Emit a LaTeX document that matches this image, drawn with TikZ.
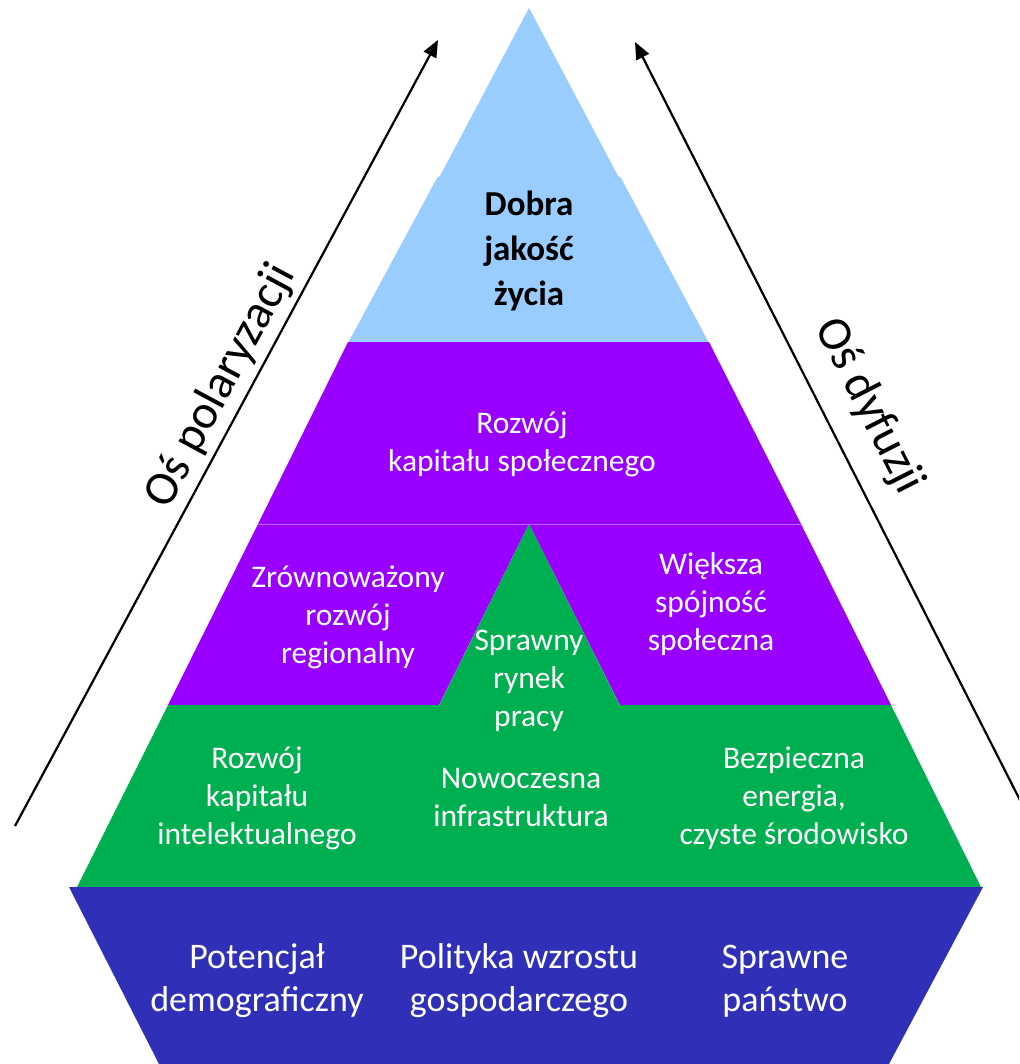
\documentclass[tikz,border=0pt]{standalone}
\usepackage{fontspec}
\setmainfont{Carlito}
\usetikzlibrary{arrows.meta}
\definecolor{lblue}{HTML}{99CCFF}
\definecolor{purp}{HTML}{9900FF}
\definecolor{grn}{HTML}{00B050}
\definecolor{dblue}{HTML}{2F2FB8}
\definecolor{divl}{HTML}{B566FF}
\tikzset{
  mid/.style={text=white, align=center, font=\fontsize{31.5}{38}\selectfont},
  big/.style={text=white, align=center, font=\fontsize{36}{43}\selectfont},
  axis/.style={draw=black, line width=2.2pt, -{Triangle[length=17pt,width=14pt]}},
  axislabel/.style={text=black, inner sep=0pt, font=\fontsize{48}{50}\selectfont}
}
\begin{document}
\begin{tikzpicture}[x=1pt,y=-1pt]
\useasboundingbox (0,0) rectangle (1019,1064);
\clip (0,0) rectangle (1019,1064);
% shapes
\fill[lblue] (529,8) -- (440,176) -- (437,178) -- (348,343) -- (709,343) -- (621,178) -- (618,176) -- cycle;
\fill[purp] (348,342) -- (258,524) -- (801,524) -- (709,342) -- cycle;
\fill[purp] (258,524) -- (168,705) -- (439,705) -- (529,524) -- (620,705) -- (891,705) -- (801,524) -- cycle;
\fill[grn] (529,524) -- (439,705.5) -- (620,705.5) -- cycle;
\fill[grn] (168,705) -- (77,887) -- (981,887) -- (891,705) -- cycle;
\fill[dblue] (69,887) -- (159,1064) -- (889,1064) -- (983,887) -- cycle;
\draw[divl, line width=0.8pt] (258,524) -- (801,524);
% texts
\node[align=center, font=\fontsize{35}{45}\selectfont\bfseries] (top) at (529,251) {Dobra\\jakość\\życia};
\node[mid] (soc) at (522,444) {Rozwój\\kapitału społecznego};
\node[mid] (reg) at (348,617) {Zrównoważony\\rozwój\\regionalny};
\node[mid] (lab) at (529,681) {Sprawny\\rynek\\pracy};
\node[mid] (coh) at (711,604) {Większa\\spójność\\społeczna};
\node[mid] (int) at (257,798) {Rozwój\\kapitału\\intelektualnego};
\node[mid] (inf) at (521,798) {Nowoczesna\\infrastruktura};
\node[mid] (ene) at (794,798) {Bezpieczna\\energia,\\czyste środowisko};
\node[big] (dem) at (257,981) {Potencjał\\demograficzny};
\node[big] (pol) at (519,981) {Polityka wzrostu\\gospodarczego};
\node[big] (sta) at (785,981) {Sprawne\\państwo};
% axes
\coordinate (lt) at (15,826);
\coordinate (lh) at (438,40);
\coordinate (rt) at (1025,810);
\coordinate (rh) at (635,42);
\draw[axis] (lt) -- (lh);
\draw[axis] (rt) -- (rh);
\node[axislabel, rotate=61.7] (pl) at (221,386) {Oś polaryzacji};
\node[axislabel, rotate=-63] (dl) at (869,406) {Oś dyfuzji};
\end{tikzpicture}
\end{document}
